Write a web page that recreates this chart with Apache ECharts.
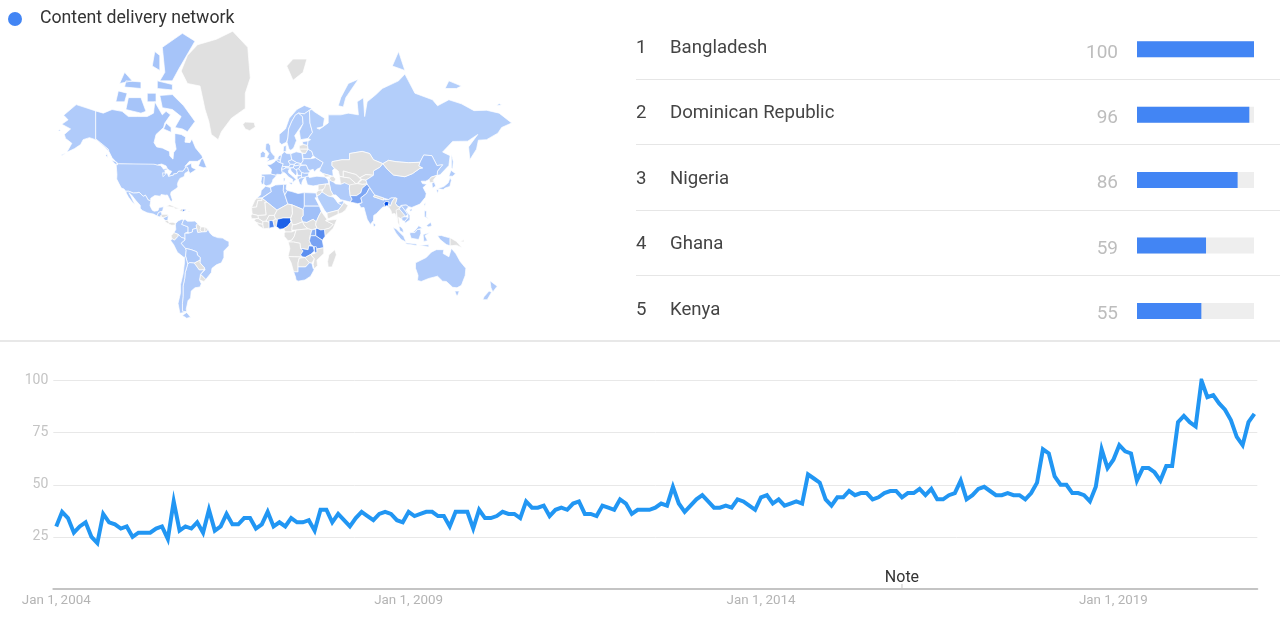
<!DOCTYPE html>
<html><head><meta charset="utf-8">
<style>html,body{margin:0;padding:0;background:#fff}#c{width:1280px;height:623px}</style>
<script src="https://cdn.jsdelivr.net/npm/echarts@6/dist/echarts.min.js"></script>
</head><body><div id="c"></div>
<script>
const seriesName = 'Content delivery network';
const trendValues = [
 30,37,34,27,30,32,25,22,36,32,31,29,
 30,25,27,27,27,29,30,24,42,28,30,29,
 32,27,38,28,30,36,31,31,34,34,29,31,
 37,30,32,30,34,32,32,33,28,38,38,32,
 36,33,30,34,37,35,33,36,37,36,33,32,
 37,35,36,37,37,35,35,30,37,37,37,29,
 38,34,34,35,37,36,36,34,42,39,39,40,
 35,38,39,38,41,42,36,36,35,40,39,38,
 43,41,36,38,38,38,39,41,40,49,41,37,
 40,43,45,42,39,39,40,39,43,42,40,38,
 44,45,41,43,40,41,42,41,55,53,51,43,
 40,44,44,47,45,46,46,43,44,46,47,47,
 44,46,46,48,45,48,43,43,45,46,52,43,
 45,48,49,47,45,45,46,45,45,43,46,51,
 67,65,54,50,50,46,46,45,42,49,67,58,
 62,69,66,65,52,58,58,56,52,59,59,80,
 83,80,78,100,92,93,89,86,81,73,69,80,
 84];
const trendMonths = trendValues.map((_, i) => 'Jan 1, ' + (2004 + Math.floor(i / 12)) + '#' + (i % 12));
const noteMonthIndex = 144;
const yTicks = [25, 50, 75, 100];
const regionNames = ['Bangladesh', 'Dominican Republic', 'Nigeria', 'Ghana', 'Kenya'];
const regionValues = [100, 96, 86, 59, 55];

const countryValues = {
 Bangladesh:100,'Dominican Republic':96,Nigeria:86,Ghana:59,Kenya:55,Zambia:52,Malawi:50,Tanzania:38,Uganda:30,Pakistan:36,Libya:22,
 Canada:15,China:15,Algeria:15,Sudan:18,France:16,Egypt:12,Morocco:12,Tunisia:12,'South Africa':16,India:15,Iran:10,
 USA:10,Alaska:10,Mexico:10,Guatemala:10,Nicaragua:9,Colombia:10,Venezuela:10,Peru:10,Brazil:10,Bolivia:12,Argentina:10,Chile:10,
 UK:10,Ireland:10,Spain:10,Portugal:12,Belgium:10,Netherlands:10,Germany:10,Switzerland:10,Austria:10,Italy:10,Poland:10,Czechia:10,Slovakia:10,Hungary:10,
 Denmark:10,Norway:10,Sweden:10,Finland:10,Estonia:10,Belarus:10,Ukraine:10,Romania:10,Bulgaria:10,Greece:10,Serbia:10,Croatia:10,Albania:10,Turkey:10,Russia:8,
 Saudi:8,UAE:8,Australia:10,NZ:10,Japan:10,SouthKorea:10,Vietnam:10,Laos:9,Cambodia:10,Malaysia:10,Indonesia:10,Philippines:10,Taiwan:10,SriLanka:10,PuertoRico:10
};
const countryShapes = {
 USA:[[[-124.7,48.4],[-123,49],[-95.2,49],[-94.6,48.7],[-92,48.3],[-89.5,48],[-88,47],[-87,46],[-84.8,46.5],[-84,45.7],[-86,45.5],[-85.5,43],[-87.5,41.7],[-87.8,44],[-84,43.8],[-83,42],[-79,42.8],[-79,43.4],[-76.5,43.6],[-75,45],[-71.5,45],[-70.3,46.2],[-69.2,47.4],[-67.8,47],[-67,45],[-70,43.7],[-70.6,41.8],[-74,40.7],[-75.5,38.5],[-76,36.9],[-75.5,35.3],[-77.5,34],[-81,32],[-81.4,30.3],[-80.1,26.8],[-80.4,25.2],[-81.8,26],[-82.8,28],[-84,30],[-85.5,29.8],[-89,30.3],[-89.4,29.1],[-91,29.3],[-94,29.6],[-97.2,27.7],[-97.2,25.9],[-99.2,26.4],[-101.4,29.8],[-103.2,29],[-104.9,30.6],[-106.5,31.8],[-108.2,31.4],[-111,31.3],[-114.8,32.5],[-117.1,32.5],[-118.5,34],[-120.6,34.6],[-122.5,37.5],[-124.3,40.3],[-124.1,43]]],
 Alaska:[[[-141,69.6],[-141,60.3],[-137.5,58.9],[-131,56],[-130.5,55],[-134,57],[-140,59.8],[-146,60.8],[-151,60],[-153,58],[-158,56.2],[-164,54.6],[-160,58.5],[-165,60.5],[-166,62],[-161,64],[-168,65.6],[-163,67],[-166.5,68.4],[-156.5,71.3],[-148,70.4]],[[-170,63.8],[-168.7,63.3],[-171,63.3]],[[-168,53.5],[-164.5,54.2],[-168,53]]],
 Canada:[[[-141,69.6],[-135,69],[-128,70],[-120,69.5],[-115,68],[-108,68],[-100,68],[-95,69],[-94,72],[-88,68.5],[-85,69.5],[-81.5,68.5],[-86,66],[-87,64.5],[-93,62],[-94.6,58.8],[-92.5,57],[-88,56.5],[-82.3,55],[-82,52.8],[-79.5,51.3],[-79,54.5],[-77,56],[-78,59],[-78,62.4],[-73,62],[-69.5,61],[-70,59],[-66,58.8],[-64.5,60.3],[-61.5,56.5],[-56.5,53],[-55.8,51.8],[-60,50.2],[-66.5,50.2],[-70,47.5],[-65,49.2],[-64.5,47],[-61,45.8],[-66,43.6],[-67,45],[-67.8,47],[-69.2,47.4],[-70.3,46.2],[-71.5,45],[-75,45],[-76.5,43.6],[-79,43.4],[-79,42.8],[-83,42],[-82,43.2],[-80.5,44.8],[-82.5,45.5],[-84,46.3],[-85,47.8],[-88.5,48.8],[-92,48.3],[-94.6,48.7],[-95.2,49],[-123,49],[-125,50],[-128,52],[-130.5,55],[-131,56],[-137.5,58.9],[-141,60.3]],
  [[-128.3,50.7],[-125,50],[-123.5,48.4],[-125.5,48.8]],[[-59.3,47.7],[-57,51.5],[-55.5,51.5],[-52.8,47],[-55,46.8]],[[-62,66.5],[-68,63],[-72,64],[-78,64.5],[-73,68],[-80,70],[-88,70.5],[-90,73.5],[-80,73.7],[-71,71]],[[-117,70],[-105,69],[-101,69.5],[-105,73],[-115,73]],[[-125,72],[-118,72],[-116,74],[-123,74.5]],[[-90,76.5],[-80,76.5],[-75,78.5],[-62,82.2],[-72,83],[-88,81.5],[-86,78]],[[-92,75],[-80,74.7],[-80,75.8],[-92,76.5]],[[-118,75.3],[-105,75],[-105,76.3],[-117,76.5]],[[-96,79],[-90,78.3],[-90,80.5],[-94,81]],[[-87,64],[-81,62.8],[-81,64.5],[-85,66]],[[-100,72],[-93,72],[-93,74],[-100,74]],[[-122,76],[-112,76.5],[-118,78]],[[-133,53],[-131.5,52],[-132,54]]],
 Greenland:[[[-73,78.2],[-68,76],[-58,75.5],[-54,70],[-51,66.5],[-49,62],[-43.5,60],[-41,63],[-33,67.5],[-22,70.3],[-22,74],[-18,77],[-20,81.5],[-32,83.2],[-45,82.4],[-60,81.8],[-68,80.5]]],
 Iceland:[[[-24,65.5],[-22,64],[-18.5,63.4],[-14,64.7],[-15,66.2],[-22,66.3]]],
 Svalbard:[[[11,79],[16,76.6],[24,78],[27,80],[16,80]]],
 Mexico:[[[-117.1,32.5],[-114.8,32.5],[-111,31.3],[-108.2,31.4],[-106.5,31.8],[-104.9,30.6],[-103.2,29],[-101.4,29.8],[-99.2,26.4],[-97.2,25.9],[-97.8,22.3],[-96,19],[-94.5,18.2],[-91.5,18.6],[-90.5,21],[-87,21.5],[-87.8,18.3],[-89.1,17.9],[-91,17.2],[-92.2,14.6],[-95,16],[-100,17],[-104,18.8],[-105.6,20.5],[-105.5,22.5],[-109,26],[-112.5,30],[-114.6,31.5],[-113,29],[-109.8,23],[-112,25],[-115,28.5],[-116.5,31]]],
 Guatemala:[[[-92.2,14.6],[-91,17.2],[-89.1,17.9],[-88.3,15.8],[-89.3,14.4],[-90.2,13.8]]],
 Honduras:[[[-89.3,14.4],[-88.3,15.8],[-84,15.8],[-83.2,15],[-85,14],[-87.5,13]]],
 ElSalvador:[[[-90.2,13.8],[-89.3,14.4],[-87.7,13.3]]],
 Nicaragua:[[[-87.5,13],[-85,14],[-83.2,15],[-83.7,11],[-85.7,11]]],
 CostaRica:[[[-85.7,11],[-83.7,11],[-82.6,9.5],[-83,8.3],[-85.7,10]]],
 Panama:[[[-83,8.3],[-82.6,9.5],[-79.5,9.6],[-77.4,8.7],[-78,7.5],[-80.4,7.3]]],
 Cuba:[[[-85,21.9],[-82,23.1],[-77,21],[-74.2,20.2],[-77.7,19.9],[-78.5,21]]],
 Haiti:[[[-74.4,18.4],[-73,19.9],[-71.7,19.7],[-71.7,18]]],
 'Dominican Republic':[[[-71.7,19.7],[-69,19.3],[-68.4,18.6],[-71.7,18]]],
 PuertoRico:[[[-67.2,18.4],[-65.7,18.4],[-65.7,18],[-67.2,18]]],
 Colombia:[[[-77.4,8.7],[-75.5,10.7],[-72,12.2],[-71.3,11],[-72.5,8],[-70,7],[-67.5,6],[-67.5,2],[-70,1],[-69.9,-4.3],[-70.5,-3],[-73,-2.3],[-75.2,0],[-78.8,1.4],[-77.3,4],[-77.5,7]]],
 Venezuela:[[[-71.3,11],[-70,12],[-68,10.5],[-64,10.5],[-62,10.7],[-60,8.5],[-61,7],[-60.7,5],[-64,4],[-64,2],[-67,1],[-67.5,2],[-67.5,6],[-70,7],[-72.5,8]]],
 Guyana:[[[-60,8.5],[-57.2,6],[-58,3.5],[-56.5,2],[-59.8,1.5],[-60.7,5],[-61,7]]],
 Suriname:[[[-57.2,6],[-54,5.9],[-54.2,2.2],[-56.5,2],[-58,3.5]]],
 FrGuiana:[[[-54,5.9],[-51.7,4.2],[-52.9,2.2],[-54.2,2.2]]],
 Ecuador:[[[-78.8,1.4],[-75.2,0],[-75.5,-1.5],[-78.3,-4.5],[-80.3,-3.4],[-81,-1]]],
 Peru:[[[-80.3,-3.4],[-78.3,-4.5],[-75.5,-1.5],[-75.2,0],[-73,-2.3],[-70.5,-3],[-69.9,-4.3],[-73,-7],[-69.5,-11],[-69,-12.5],[-69.5,-17],[-70.4,-18.3],[-76,-14],[-79,-8],[-81.3,-5]]],
 Brazil:[[[-51.7,4.2],[-50,1],[-48,-1],[-44,-2.5],[-40,-2.9],[-37,-4.8],[-35,-5.5],[-35,-9],[-39,-13],[-39,-18],[-41,-22],[-45,-23.5],[-48.5,-26],[-49,-29],[-53.4,-33.7],[-57.6,-30.2],[-54,-27],[-54.6,-25.5],[-58,-22],[-57.8,-18],[-60,-16.3],[-60.5,-13.7],[-65,-12],[-69.5,-11],[-73,-7],[-69.9,-4.3],[-70,1],[-67,1],[-64,2],[-64,4],[-60.7,5],[-59.8,1.5],[-56.5,2],[-52.9,2.2]]],
 Bolivia:[[[-69.5,-11],[-65,-12],[-60.5,-13.7],[-60,-16.3],[-57.8,-18],[-58,-20],[-62.6,-22.2],[-66.2,-21.8],[-67.8,-22.8],[-69.5,-17],[-69,-12.5]]],
 Paraguay:[[[-58,-20],[-58,-22],[-54.6,-25.5],[-54.6,-27],[-58.6,-27.2],[-62.6,-22.2]]],
 Uruguay:[[[-57.6,-30.2],[-53.4,-33.7],[-54.9,-35],[-58.4,-34]]],
 Argentina:[[[-66.2,-21.8],[-62.6,-22.2],[-58.6,-27.2],[-54.6,-27],[-54,-27],[-57.6,-30.2],[-58.4,-34],[-57,-36.5],[-58,-38.5],[-62,-39],[-65,-41],[-65.5,-45],[-67.5,-46.5],[-69,-51],[-68.5,-52.3],[-72,-52],[-72,-48],[-71.5,-44],[-71.5,-38],[-70.2,-33],[-69.8,-29],[-68.3,-24.5],[-67.8,-22.8]]],
 Chile:[[[-70.4,-18.3],[-69.5,-17],[-67.8,-22.8],[-68.3,-24.5],[-69.8,-29],[-70.2,-33],[-71.5,-38],[-71.5,-44],[-72,-48],[-72,-52],[-68.5,-52.3],[-74,-53],[-75.5,-48],[-73.5,-42],[-73.5,-37],[-71.5,-30],[-70.4,-22]],[[-68.6,-52.6],[-65.5,-54.8],[-68.6,-55.3],[-72,-54]]],
 UK:[[[-5.5,50],[1.3,51.2],[1.6,52.7],[0,53.5],[-1.6,55],[-2,57.5],[-3.5,58.6],[-5.5,58.4],[-6,56],[-3.2,54],[-5,52],[-3,51.4]]],
 Ireland:[[[-10,52],[-6.2,52.2],[-6,54],[-8,55.2],[-10,54]]],
 France:[[[-4.7,48.4],[-1.5,48.7],[1.5,50],[2.5,51],[4.2,50],[5.8,49.5],[8.2,49],[7.5,47.5],[6.9,46],[7.6,43.8],[6,43],[3,43.2],[3,42.4],[-1.7,43.3],[-1.1,46]]],
 Spain:[[[-9.2,43.2],[-1.7,43.3],[3,42.4],[0,40],[-0.5,38.5],[-2,36.8],[-5.5,36],[-7.4,37.2],[-7,41.9],[-8.8,41.9]]],
 Portugal:[[[-8.8,41.9],[-7,41.9],[-7.4,37.2],[-9,37],[-9.5,38.8]]],
 Belgium:[[[2.5,51],[4.3,51.4],[6,50.7],[5.8,49.5],[4.2,50]]],
 Netherlands:[[[3.5,51.4],[4.8,53],[7,53.3],[6,50.7],[4.3,51.4]]],
 Germany:[[[7,53.5],[9,54.9],[11,54],[14.2,53.9],[15,51],[12.2,50.3],[13.8,48.7],[13,47.5],[7.5,47.5],[8.2,49],[5.8,49.5],[6,50.7]]],
 Switzerland:[[[7.5,47.5],[9.6,47.5],[10.4,46.8],[8.4,46],[6.9,46]]],
 Austria:[[[9.6,47.5],[13,47.5],[13.8,48.7],[17,48.7],[16.2,46.8],[10.4,46.8]]],
 Italy:[[[6.9,46],[8.4,46],[10.4,46.8],[13.7,46.5],[12.3,45.3],[12.5,44],[16,41.9],[18.5,40],[16.8,39],[15.7,38],[15.8,40],[12.3,41.7],[10.2,43.5],[8.5,44.3],[7.6,43.8]],[[12.5,38],[15.6,38.2],[15,36.7]],[[8.3,41],[9.7,41],[9.5,39.1],[8.4,39]]],
 Poland:[[[14.2,53.9],[18.5,54.8],[23,54.3],[24,50.5],[22.5,49],[19,49.5],[15,51]]],
 Czechia:[[[12.2,50.3],[15,51],[19,49.5],[17,48.7],[13.8,48.7]]],
 Slovakia:[[[17,48.7],[19,49.5],[22.5,49],[22,48.4],[18,47.8]]],
 Hungary:[[[16.2,46.8],[17,48],[18,47.8],[22,48.4],[20.5,46.2],[18,45.8]]],
 Denmark:[[[8.2,55],[8.5,57.2],[10.6,57.7],[10.5,55],[9,54.9]]],
 Norway:[[[5,59],[7,58],[10.8,59],[12,61],[12.5,64],[15,66.5],[18,68.5],[20.5,69],[25,68.8],[29,69.8],[31,70.3],[25,71.1],[19,70],[13,67.5],[10,64],[5,62]]],
 Sweden:[[[11.2,59],[12.8,56],[14.3,55.5],[16.5,56.5],[18.8,59.7],[17.3,61.5],[21,64],[24,65.8],[23.5,68],[20.5,69],[18,68.5],[15,66.5],[12.5,64],[12,61]]],
 Finland:[[[22,60],[28,60.5],[31.5,62.8],[29.5,66],[29,69.8],[25,68.8],[20.5,69],[23.5,68],[24,65.8],[21,63.2]]],
 Estonia:[[[23.5,59.2],[28,59.5],[27.5,57.6],[24,58]]],
 Latvia:[[[21,57.5],[24,58],[27.5,57.6],[28,56],[21,56]]],
 Lithuania:[[[21,56],[28,56],[26,54],[23,54.3]]],
 Belarus:[[[23.5,54],[26,54],[28,56],[31,55],[32,53],[30,51.5],[24,51.5]]],
 Ukraine:[[[22.5,49],[24,50.5],[24,51.5],[30,51.5],[34,52],[40,49.6],[38,47],[35,46],[33,44.5],[32,46],[30,45.5],[28.2,45.5],[26.5,48.2],[22,48.4]]],
 Romania:[[[20.5,46.2],[22,48],[26.5,48.2],[28.2,45.5],[29.6,45],[28.6,43.8],[25,43.7],[22.7,44.2]]],
 Bulgaria:[[[22.7,44.2],[25,43.7],[28.6,43.8],[28,42],[26,41.4],[22.7,41.3]]],
 Greece:[[[20.2,39.7],[21,40.8],[26,41.4],[24,40],[23,38],[23,36.5],[21.5,37]]],
 Serbia:[[[18.9,46],[20.5,46.2],[22.7,44.2],[22.7,42.5],[20,42.5],[19,44.5]]],
 Croatia:[[[13.7,46.5],[16.2,46.8],[18,45.8],[19,45],[19,43.2],[18,42.5],[14.5,45]]],
 Albania:[[[19.3,42],[22.7,42.5],[22.7,41.3],[21,40.8],[20.2,39.7],[19.4,40.5]]],
 Turkey:[[[26,41.7],[28,42],[29,41.2],[35,42],[41.5,41.5],[43.8,40],[44.5,37.5],[36.5,36.6],[32,36],[27.5,36.7],[26.2,40]]],
 Russia:[[[28,56],[27.5,57.6],[28,59.5],[30,60],[28,60.5],[31.5,62.8],[29.5,66],[29,69.8],[31,70],[33,69.4],[41,67.5],[40,64.8],[35,64.3],[37,63.9],[44,66],[44,68.5],[54,68.5],[60,69],[68,68.5],[67,72],[72,73],[73,68],[75,72],[82,73.7],[87,75],[100,76.5],[105,77.7],[113,74],[127,72.5],[131,71],[140,72.5],[150,71.5],[160,69.7],[170,69.8],[180,69],[190,66],[182,64.5],[179,62.5],[170,60],[163.5,59.8],[162,56],[156.7,51],[155.7,57],[163,62],[155,59.4],[143,59.3],[135,54.7],[141,53],[140,48],[133,42.8],[130.6,42.5],[131,45],[135,48.4],[130.5,48],[126.5,53],[120,53.3],[117,49.7],[108,49.5],[98,50],[92,50.7],[87.5,49],[80,51],[77,54],[71,55],[61,54],[61,51],[55,51],[47,50],[47,48],[49,46.5],[47.5,45.5],[48,42],[44,42.7],[40,43.5],[37,45],[38,47],[40,49.6],[34,52],[32,53],[31,55]],
  [[52,71],[56,70.7],[58,73],[68,76.8],[60,76],[54,73]],[[142,54],[143.5,50],[143,46],[142,47],[142,52]],[[137,75],[146,75],[150,75.5],[140,76.5]],[[95,79],[105,78.3],[100,81]],[[178,71],[182,71.2],[180,71.6]]],
 Kazakhstan:[[[47,50],[55,51],[61,51],[61,54],[71,55],[77,54],[80,51],[87.5,49],[85,47],[80,45],[80,42.5],[74,43],[69,41],[66,43],[61,44],[56,45],[56,41.5],[53,42],[52,45],[49,46.5],[47,48]]],
 Turkmenistan:[[[53,42],[56,41.5],[61,41],[66,37.5],[62,35.5],[57,38],[53.8,37]]],
 Uzbekistan:[[[56,45],[61,44],[66,43],[69,41],[71,41],[67,37.5],[66,37.5],[61,41],[56,41.5]]],
 Kyrgyzstan:[[[69,41],[74,43],[80,42.5],[74,39.6],[71,40]]],
 Tajikistan:[[[67.5,37.5],[71,40],[74,39.6],[75,37.2],[71,37]]],
 Georgia:[[[40,43.5],[44,42.7],[46.5,41.8],[41.5,41.5]]],
 Azerbaijan:[[[44.8,41],[46.5,41.8],[48,42],[50,40.3],[48.8,38.5],[46,39]]],
 Armenia:[[[43.8,40],[44.8,41],[46,39],[44.8,39.7]]],
 Iran:[[[44.8,39.7],[48,38.5],[50,37.3],[54,37],[57,38],[61,36.6],[60.8,34],[61.5,29.5],[63,27],[61.5,25],[57,26],[54,26.7],[50,30],[48,30],[46,33],[45,37]]],
 Iraq:[[[42,37.2],[45,37],[46,33],[48,30],[46,29],[44,29.2],[39,32]]],
 Syria:[[[36,36.6],[42,37.2],[41,34.5],[38.8,33.4],[36,33]]],
 Jordan:[[[34.3,31.3],[36,33],[38.8,33.4],[39,32],[37,30],[35,29.5]]],
 Saudi:[[[35,29.5],[37,30],[39,32],[44,29.2],[48,28.5],[50,26.5],[51.5,24.5],[55,22.5],[52,19],[45,17.3],[43,16.7],[41,19],[38.5,23],[36,27]]],
 Yemen:[[[43,16.7],[45,17.3],[52,19],[52,16],[45,12.8],[43.5,12.7]]],
 Oman:[[[52,19],[55,22.5],[56.3,24.8],[59.8,22.5],[57.7,19],[55,17],[52,16]]],
 UAE:[[[51.5,24.5],[56,26],[56.3,24.8],[55,22.5]]],
 Afghanistan:[[[61,36.6],[64.5,37.2],[67,37.5],[71,37],[75,37.2],[71,34.5],[70,31.5],[66.5,29.5],[61.5,29.5],[60.8,34]]],
 Pakistan:[[[61.5,29.5],[66.5,29.5],[70,31.5],[71,34.5],[75,37.2],[77,35],[74.5,31],[70,28],[71,24.5],[67.5,23.8],[61.5,25],[63,27]]],
 India:[[[77,35],[79,32.5],[81,30],[80,28.8],[88,26.4],[88.2,27.9],[89,26.6],[92,26.8],[94,28],[97,28],[95,25.5],[93.5,22],[92,23.5],[92.3,25],[89.8,25.5],[88.5,24],[89,21.8],[87,21],[82.5,16.5],[80.2,15],[80,11],[77.5,8],[75,12],[73,19],[72.5,21],[70,20.8],[68.5,23.5],[71,24.5],[70,28],[74.5,31]]],
 Bangladesh:[[[88.5,24],[89.8,25.5],[92.3,25],[92,23.5],[92.3,21],[91,22.5],[89,21.8]]],
 Nepal:[[[80,28.8],[81,30],[88.2,27.9],[88,26.4]]],
 SriLanka:[[[80,9.5],[81.8,7.5],[80.5,6],[79.8,7.5]]],
 China:[[[74,39.6],[80,42.5],[80,45],[85,47],[87.5,49],[91,46],[96,42.7],[105,41.7],[111,43.5],[117,46.5],[119,46.7],[116,47.8],[117,49.7],[120,53.3],[126.5,53],[130.5,48],[135,48.4],[131,45],[130.6,42.5],[126,41.5],[124.3,40],[121.5,39],[118,39],[119,37.5],[122.5,37],[119.5,35],[122,31],[121.5,28.5],[117,23.5],[110.5,21],[108,21.6],[106,22.8],[102,22.5],[101.5,21.2],[99,22],[97.5,24],[98.7,27.5],[97,28],[94,28],[92,26.8],[89,27.5],[88.2,27.9],[81,30],[79,32.5],[77,35],[75,37.2]],[[108.7,19.3],[110.5,20],[110.8,18.8],[109.5,18.2]]],
 Taiwan:[[[120.2,23],[121.5,25.2],[121,22]]],
 Mongolia:[[[87.5,49],[92,50.7],[98,50],[108,49.5],[117,49.7],[116,47.8],[119,46.7],[117,46.5],[111,43.5],[105,41.7],[96,42.7],[91,46]]],
 NorthKorea:[[[124.3,40],[126,41.5],[130.6,42.5],[127.5,39.5],[128.3,38.5],[125,38]]],
 SouthKorea:[[[126.5,37.7],[128.3,38.5],[129.5,36],[127,34.5]]],
 Japan:[[[131,34.3],[136,35.6],[139.5,38],[141,41.3],[142,39.5],[140.8,35.7],[137,34.6],[135.5,33.6]],[[140,42],[141.7,45.4],[145.3,43.5],[143,42]],[[130,33.5],[132,33.5],[131,31]]],
 Myanmar:[[[92,23.5],[93.5,22],[95,25.5],[97,28],[98.7,27.5],[97.5,24],[99,22],[101,21.2],[98,16],[99,10],[98,14],[97,16.5],[94.5,16],[94,18.5],[92.3,21]]],
 Thailand:[[[98,19],[100.5,20],[105,15],[102.5,12],[100,13.5],[101,7],[99.5,9],[99,13]]],
 Laos:[[[101.5,21.2],[102,22.5],[105,19],[107.5,15.5],[105,14],[105,15],[100.5,20]]],
 Vietnam:[[[102,22.5],[106,22.8],[108,21.6],[105.7,19],[109,15],[109,11.5],[105,8.8],[105,10.5],[107.5,13.5],[107.5,15.5],[105,19]]],
 Cambodia:[[[102.5,13.5],[105,14],[107.5,13.5],[105,10.5],[102.8,11]]],
 Malaysia:[[[100.2,6.5],[102,6],[103.5,4],[104,1.4],[101,3]],[[109.7,1.6],[111,1.5],[113,3],[116,7],[119,5],[115,4],[113,1.5]]],
 Indonesia:[[[109,1.5],[113,1.5],[115,4],[117.5,4],[117.8,1],[116,-4],[110,-3],[109,0]],[[95.5,5.5],[98,4.5],[104,-1.5],[106,-6],[102,-4],[98,1]],[[105.5,-6.5],[114.5,-7.5],[114.3,-8.7],[106,-7.5]],[[119.5,0],[125,1.5],[121,-1],[123,-5],[120,-5.5]],[[131,-1],[134,-0.8],[138,-2],[141,-2.6],[141,-9],[138,-8],[133,-4]],[[116,-8.5],[124,-8.2],[124,-10],[119,-9]]],
 PNG:[[[141,-2.6],[146,-5.5],[150.5,-10.5],[146,-8.5],[141,-9]],[[149,-5.5],[152,-4.2],[152,-6]]],
 Philippines:[[[120.5,18.5],[122.3,18.4],[122,14],[124,12.5],[120.5,14]],[[122,7],[125.5,9.7],[126.5,7],[124,6]]],
 Morocco:[[[-5.9,35.8],[-2,35],[-1.2,32.2],[-8.7,28],[-13,27.7],[-9.8,30],[-9.3,33]]],
 WSahara:[[[-13,27.7],[-8.7,27.7],[-8.7,26],[-12,26],[-13,21.3],[-17,21],[-14.5,26]]],
 Algeria:[[[-2,35],[2,36.6],[8.5,37],[8.3,33],[9.5,30],[11.9,23.5],[3.2,19],[-4.8,25],[-8.7,27.7],[-8.7,28],[-1.2,32.2]]],
 Tunisia:[[[8.5,37],[11,37],[10.5,34],[11.5,33],[9.5,30],[8.3,33]]],
 Libya:[[[11.5,33],[15,32.3],[20,31],[25,31.6],[25,20],[24,19.5],[15,23],[11.9,23.5],[9.5,30]]],
 Egypt:[[[25,31.6],[34.3,31.3],[35,28],[33.5,28],[37,22],[25,22]]],
 Sudan:[[[24,19.5],[25,22],[37,22],[38.5,18],[36.5,14.5],[34.5,10],[32,12],[27,9.5],[23.5,10],[22.5,13],[24,15]]],
 SouthSudan:[[[23.5,10],[27,9.5],[32,12],[34.5,10],[34,8],[35,5],[31,3.7],[28,4.5],[25,7]]],
 Chad:[[[15,23],[24,19.5],[24,15],[22.5,13],[23.5,10],[18.5,8],[15.5,7.5],[14,12.5],[15.5,16.5]]],
 Niger:[[[3.2,19],[11.9,23.5],[15,23],[15.5,16.5],[14,13],[8,13],[3.7,12],[2,12],[1,15]]],
 Mali:[[[-4.8,25],[3.2,19],[1,15],[-3,15],[-5.5,10.5],[-8,10.3],[-11.5,12.5],[-12,15],[-5.5,15.5],[-6.5,25]]],
 Mauritania:[[[-17,21],[-13,21.3],[-12,26],[-8.7,26],[-8.7,27.7],[-4.8,25],[-6.5,25],[-5.5,15.5],[-12,15],[-16.5,16]]],
 Senegal:[[[-16.5,16],[-12,15],[-11.5,12.5],[-17,12.5],[-17.5,14.7]]],
 Guinea:[[[-15,11],[-13.5,12.5],[-11.5,12.5],[-8,10.3],[-8,8],[-10.5,8.5],[-13,9.5]]],
 Liberia:[[[-13,9.5],[-10.5,8.5],[-8,8],[-7.5,4.5],[-11.5,7]]],
 IvoryCoast:[[[-8,8],[-8,10.3],[-5.5,10.5],[-3,9.8],[-3,5],[-7.5,4.5]]],
 Burkina:[[[-5.5,10.5],[-3,15],[1,15],[2,12],[0,11],[-3,11],[-3,9.8]]],
 Ghana:[[[-3,11],[0,11],[1.2,6],[-3,5]]],
 Benin:[[[0,11],[2,12],[3.7,12],[2.7,6.3],[1.2,6]]],
 Nigeria:[[[2.7,6.3],[3.7,12],[8,13],[14,13],[14.5,10],[11.7,6.5],[8.5,4.6],[5.5,4.2]]],
 Cameroon:[[[8.5,4.6],[11.7,6.5],[14.5,10],[14,12.5],[15.5,7.5],[15,2],[10,2]]],
 CAR:[[[15.5,7.5],[18.5,8],[23.5,10],[25,7],[28,4.5],[18.5,3.5],[15,3.5]]],
 Gabon:[[[9,1],[10,2],[15,2],[18.5,3.5],[17,-1.5],[15,-4.5],[12,-5],[9,-1.5]]],
 DRC:[[[18.5,3.5],[28,4.5],[31,3.7],[29.5,-1.5],[29,-5],[30.5,-8.3],[28.5,-9],[28,-12],[22,-11],[21.5,-7],[16.5,-6],[12.2,-6],[15,-4.5],[17,-1.5]]],
 Ethiopia:[[[36.5,14.5],[38.5,18],[43,12],[42,11],[48,8],[45,5],[41.5,4],[38,3.6],[35,5],[34,8],[34.5,10]]],
 Somalia:[[[42,11],[51,12],[48,5],[41.5,-1.5],[41,4],[45,5],[48,8]]],
 Kenya:[[[35,5],[38,3.6],[41,4],[41.5,-1.5],[39.3,-4.6],[34,-1],[34,4.2]]],
 Uganda:[[[31,3.7],[34,4.2],[34,-1],[29.7,-1.2]]],
 Tanzania:[[[30,-1],[34,-1],[39.3,-4.6],[40.4,-10.5],[35,-11.5],[32,-9.3],[30.5,-8.3],[29,-5]]],
 Angola:[[[12.2,-6],[16.5,-6],[21.5,-7],[22,-11],[24,-13],[22,-16],[23.5,-17.7],[12,-17.3],[13.5,-11]]],
 Zambia:[[[22,-11],[28,-12],[28.5,-9],[32,-9.3],[33,-13],[30,-15.7],[26,-17.8],[23.5,-17.7],[22,-16],[24,-13]]],
 Malawi:[[[33,-9.5],[34.5,-9.7],[35.5,-14],[34.5,-16],[33,-13]]],
 Zimbabwe:[[[26,-17.8],[30,-15.7],[33,-19],[31,-22.3],[29,-22],[25.5,-18.7]]],
 Mozambique:[[[35,-11.5],[40.4,-10.5],[40.5,-15],[35,-20],[35.5,-24],[32.8,-26.5],[32,-23],[33,-19],[30,-15.7],[33,-15],[35,-14]]],
 Namibia:[[[12,-17.3],[23.5,-17.7],[25,-18],[21,-18.5],[20,-22],[20,-28.5],[16.5,-28.5],[14.5,-22]]],
 Botswana:[[[20,-22],[21,-18.5],[25.5,-18],[29,-22],[26,-25],[20,-25]]],
 'South Africa':[[[16.5,-28.5],[20,-28.5],[20,-25],[26,-25],[29,-22],[31,-22.3],[32,-26],[32.8,-27],[30,-31.5],[25.5,-34],[20,-34.8],[18.4,-34],[18,-32]]],
 Madagascar:[[[49.3,-12],[50.5,-16],[47,-25],[44,-25],[43.5,-21],[44.5,-16]]],
 Australia:[[[113.5,-22],[122,-18],[126,-14],[130,-12],[136,-12],[135.5,-15],[140,-17.5],[142,-11],[145.5,-15],[149,-21],[153.5,-26],[153,-31],[150,-37.5],[146.5,-39],[143,-38.7],[138,-35],[135,-34.8],[131,-31.5],[124,-33],[118,-35],[115,-34.3],[115.5,-31],[113.5,-26]],[[144.7,-41],[148.3,-41],[147,-43.6],[146,-43.5]]],
 NZ:[[[172.7,-34.5],[178.5,-38],[175,-41.5],[173.5,-39]],[[172,-41],[174,-41.7],[170.5,-46],[167,-46],[168,-44.3]]]
};

const worldGeo = { type:'FeatureCollection', features: Object.keys(countryShapes).map(name => ({
  type:'Feature', properties:{name}, geometry:{type:'MultiPolygon', coordinates:countryShapes[name].map(r => [r.concat([r[0]])])}
}))};
echarts.registerMap('trendsWorld', worldGeo);
const RAD = Math.PI / 180;
const mercator = {
  project: p => [p[0], -Math.log(Math.tan(Math.PI / 4 + p[1] * RAD / 2)) / RAD],
  unproject: p => [p[0], (2 * Math.atan(Math.exp(-p[1] * RAD)) - Math.PI / 2) / RAD]
};

const FONT = 'Roboto, sans-serif';
const separators = [79.5, 144.5, 210.5, 275.5].map(y => ({
  type:'line', silent:true, shape:{x1:636,y1:y,x2:1280,y2:y}, style:{stroke:'#e6e6e6',lineWidth:1}
}));
const chart = echarts.init(document.getElementById('c'), null, {renderer:'canvas'});
chart.setOption({
  animation:false,
  backgroundColor:'#fff',
  textStyle:{fontFamily:FONT},
  legend:{ left:8, top:10, padding:0, itemWidth:14, itemHeight:14, itemGap:0, selectedMode:false,
    data:[{name:seriesName, icon:'circle', itemStyle:{color:'#4285f4'}}],
    textStyle:{fontSize:17.7, color:'#333', fontFamily:FONT, padding:[0,0,0,13]} },
  visualMap:{ show:false, seriesIndex:2, min:0, max:100, inRange:{color:['#c3d9fc','#004ce5']} },
  grid:[
    {left:53.3, top:380.5, width:1204, height:208.5},
    {left:1137, top:16.6, width:117, height:327}
  ],
  xAxis:[
    {gridIndex:0, type:'category', data:trendMonths, boundaryGap:true,
     axisLine:{lineStyle:{color:'#c4c4c4',width:2}}, axisTick:{show:false},
     axisLabel:{interval:(i)=>i%60===0, formatter:(v)=>v.split('#')[0], color:'#b4b4b4', fontSize:13.4, margin:5, fontFamily:FONT}},
    {gridIndex:1, type:'value', min:0, max:100, show:false}
  ],
  yAxis:[
    {gridIndex:0, type:'value', min:0, max:100, interval:25,
     axisLine:{show:false}, axisTick:{show:false},
     splitLine:{lineStyle:{color:'#e8e8e8',width:1}},
     axisLabel:{color:'#c4c4c4', fontSize:14, margin:5, fontFamily:FONT, padding:[4,0,0,0], formatter:(v)=>yTicks.includes(v)?String(v):''}},
    {gridIndex:1, type:'category', inverse:true, data:regionNames,
     axisLine:{show:false}, axisTick:{show:false}, splitLine:{show:false},
     axisLabel:{margin:501, align:'left', formatter:(n,i)=>`{r|${i+1}}{n|${n}}`,
       rich:{r:{width:34,fontSize:18.6,color:'#444',fontFamily:FONT,padding:[0,0,2,0]},n:{fontSize:18.6,color:'#444',fontFamily:FONT,padding:[0,0,2,0]}}}}
  ],
  series:[
    {name:seriesName, type:'line', xAxisIndex:0, yAxisIndex:0, data:trendValues, symbol:'none', smooth:false, silent:true,
     lineStyle:{color:'#2196f3',width:4,join:'miter'}, itemStyle:{color:'#2196f3'},
     markPoint:{silent:true, symbol:'rect', symbolSize:[1,5], symbolOffset:[0,-2.5], animation:false,
       itemStyle:{color:'#c4c4c4'},
       label:{show:true, position:'top', distance:0, offset:[0,2], formatter:'Note', color:'#333', fontSize:16, fontFamily:FONT},
       data:[{coord:[trendMonths[noteMonthIndex],0]}]}},
    {name:'Regions', type:'bar', xAxisIndex:1, yAxisIndex:1, data:regionValues, barWidth:16, silent:true,
     itemStyle:{color:'#4285f4'}, showBackground:true, backgroundStyle:{color:'#eeeeee'},
     label:{show:true, position:'left', distance:19, offset:[0,3.5], color:'#bdbdbd', fontSize:19, fontFamily:FONT}},
    {name:'Map', type:'map', map:'trendsWorld', projection:mercator, roam:false, silent:true, showLegendSymbol:false,
     boundingCoords:[[-180,84],[190,-58]], left:46.7, top:22.2, width:465, height:302.2,
     label:{show:false}, emphasis:{disabled:true}, select:{disabled:true},
     itemStyle:{areaColor:'#e0e0e0', borderColor:'#fff', borderWidth:0.7},
     data:Object.keys(countryValues).map(name => ({name, value:countryValues[name]}))}
  ],
  graphic:separators.concat([{type:'line', silent:true, shape:{x1:0,y1:341,x2:1280,y2:341}, style:{stroke:'#e8e8e8',lineWidth:2}}])
});
</script></body></html>
